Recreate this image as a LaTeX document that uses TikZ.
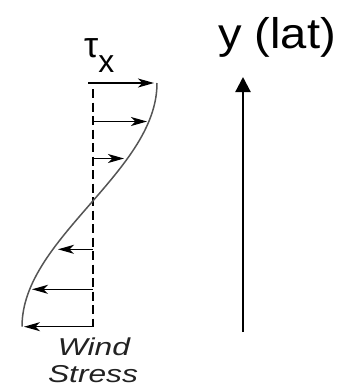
\documentclass[tikz,border=0pt]{standalone}
\usepackage{fontspec}
\setmainfont{Liberation Sans}
\usepackage{tikz}
\usetikzlibrary{arrows.meta}
\definecolor{curvegray}{HTML}{555555}
\definecolor{labelgray}{HTML}{222222}
\newcommand{\widetext}[2]{\scalebox{#1}[1]{#2}}

\begin{document}
\begin{tikzpicture}[
    x=1bp, y=-1bp,
    stress/.style={line width=1.3bp, -{Stealth[length=16bp, width=9bp, inset=4.5bp]}},
    axis/.style={line width=2.2bp, -{Triangle[length=15bp, width=15bp]}},
    zero/.style={line width=2.3bp, dash pattern=on 9bp off 4.5bp},
    profile/.style={line width=1.5bp, draw=curvegray},
    big/.style={font=\fontsize{43}{43}\selectfont, inner sep=0pt},
    small/.style={font=\fontsize{24.5}{25}\selectfont\itshape, text=labelgray, inner sep=0pt},
]
\useasboundingbox (0,0) rectangle (341,387);

% Zero line of the stress
\coordinate (top) at (92.7,89);
\coordinate (bot) at (92.7,327);
\draw[zero] (top) -- (bot);

% Stress profile
\draw[profile] plot[domain=0:180, samples=61] ({89.5+67.5*cos(\x)}, {83+1.3539*\x});

% Stress arrows
\draw[stress] (88,83) -- (154,83);
\foreach \yy/\xx in {121.5/147, 158.5/124, 249.3/58, 289.3/32, 326.7/24}
    \draw[stress] (92.7,\yy) -- (\xx,\yy);

% Latitude axis
\coordinate (ybot) at (243,332);
\coordinate (ytop) at (243,77);
\draw[axis] (ybot) -- (ytop);

% Labels
\node[big, anchor=base] (ylab) at (277,48) {\widetext{1.1}{y (lat)}};
\node[anchor=base west, inner sep=0pt, font=\fontsize{36}{36}\selectfont] (tau) at (84,57)
    {τ\raisebox{-15bp}{\fontsize{32}{32}\selectfont x}};
\node[small, anchor=base] (wind) at (94,355) {\widetext{1.3}{Wind}};
\node[small, anchor=base] (stress) at (93,382.5) {\widetext{1.3}{Stress}};

\end{tikzpicture}
\end{document}
